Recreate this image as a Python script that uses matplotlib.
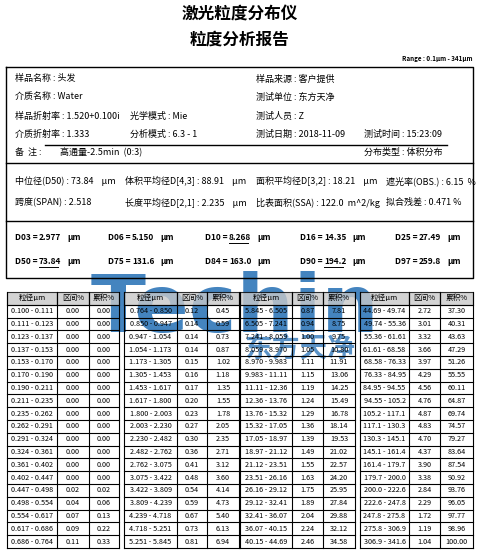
import matplotlib.pyplot as plt

plt.rcParams['font.family'] = ['Noto Sans CJK SC', 'DejaVu Sans']

W, H = 480, 551

# ---- report data ----
info_left = ["样品名称 : 头发", "介质名称 : Water", "样品折射率 : 1.520+0.100i", "介质折射率 : 1.333"]
info_mid = ["", "", "光学模式 : Mie", "分析模式 : 6.3 - 1"]
info_right = ["样品来源 : 客户提供", "测试单位 : 东方天净", "测试人员 : Z", "测试日期 : 2018-11-09"]
test_time = "测试时间 : 15:23:09"
remark = "高通量-2.5min  (0:3)"
dist_type = "分布类型 : 体积分布"

stats_row1 = ["中位径(D50) : 73.84    μm", "体积平均径D[4,3] : 88.91    μm",
              "面积平均径D[3,2] : 18.21    μm", "遮光率(OBS.) : 6.15  %"]
stats_row2 = ["跨度(SPAN) : 2.518", "长度平均径D[2,1] : 2.235    μm",
              "比表面积(SSA) : 122.0  m^2/kg", "拟合残差 : 0.471 %"]

d_names = ["D03", "D06", "D10", "D16", "D25", "D50", "D75", "D84", "D90", "D97"]
d_values = ["2.977", "5.150", "8.268", "14.35", "27.49", "73.84", "131.6", "163.0", "194.2", "259.8"]
d_underlined = ["D10", "D50", "D90"]

size_ranges = [
    "0.100 - 0.111", "0.111 - 0.123", "0.123 - 0.137", "0.137 - 0.153", "0.153 - 0.170",
    "0.170 - 0.190", "0.190 - 0.211", "0.211 - 0.235", "0.235 - 0.262", "0.262 - 0.291",
    "0.291 - 0.324", "0.324 - 0.361", "0.361 - 0.402", "0.402 - 0.447", "0.447 - 0.498",
    "0.498 - 0.554", "0.554 - 0.617", "0.617 - 0.686", "0.686 - 0.764",
    "0.764 - 0.850", "0.850 - 0.947", "0.947 - 1.054", "1.054 - 1.173", "1.173 - 1.305",
    "1.305 - 1.453", "1.453 - 1.617", "1.617 - 1.800", "1.800 - 2.003", "2.003 - 2.230",
    "2.230 - 2.482", "2.482 - 2.762", "2.762 - 3.075", "3.075 - 3.422", "3.422 - 3.809",
    "3.809 - 4.239", "4.239 - 4.718", "4.718 - 5.251", "5.251 - 5.845",
    "5.845 - 6.505", "6.505 - 7.241", "7.241 - 8.059", "8.059 - 8.970", "8.970 - 9.983",
    "9.983 - 11.11", "11.11 - 12.36", "12.36 - 13.76", "13.76 - 15.32", "15.32 - 17.05",
    "17.05 - 18.97", "18.97 - 21.12", "21.12 - 23.51", "23.51 - 26.16", "26.16 - 29.12",
    "29.12 - 32.41", "32.41 - 36.07", "36.07 - 40.15", "40.15 - 44.69",
    "44.69 - 49.74", "49.74 - 55.36", "55.36 - 61.61", "61.61 - 68.58", "68.58 - 76.33",
    "76.33 - 84.95", "84.95 - 94.55", "94.55 - 105.2", "105.2 - 117.1", "117.1 - 130.3",
    "130.3 - 145.1", "145.1 - 161.4", "161.4 - 179.7", "179.7 - 200.0", "200.0 - 222.6",
    "222.6 - 247.8", "247.8 - 275.8", "275.8 - 306.9", "306.9 - 341.6",
]
interval_pct = [
    0.00, 0.00, 0.00, 0.00, 0.00, 0.00, 0.00, 0.00, 0.00, 0.00, 0.00, 0.00, 0.00, 0.00,
    0.02, 0.04, 0.07, 0.09, 0.11,
    0.12, 0.14, 0.14, 0.14, 0.15, 0.16, 0.17, 0.20, 0.23, 0.27, 0.30, 0.36, 0.41, 0.48,
    0.54, 0.59, 0.67, 0.73, 0.81,
    0.87, 0.94, 1.00, 1.05, 1.11, 1.15, 1.19, 1.24, 1.29, 1.36, 1.39, 1.49, 1.55, 1.63,
    1.75, 1.89, 2.04, 2.24, 2.46,
    2.72, 3.01, 3.32, 3.66, 3.97, 4.29, 4.56, 4.76, 4.87, 4.83, 4.70, 4.37, 3.90, 3.38,
    2.84, 2.29, 1.72, 1.19, 1.04,
]
cumulative_pct = [
    0.00, 0.00, 0.00, 0.00, 0.00, 0.00, 0.00, 0.00, 0.00, 0.00, 0.00, 0.00, 0.00, 0.00,
    0.02, 0.06, 0.13, 0.22, 0.33,
    0.45, 0.59, 0.73, 0.87, 1.02, 1.18, 1.35, 1.55, 1.78, 2.05, 2.35, 2.71, 3.12, 3.60,
    4.14, 4.73, 5.40, 6.13, 6.94,
    7.81, 8.75, 9.75, 10.80, 11.91, 13.06, 14.25, 15.49, 16.78, 18.14, 19.53, 21.02, 22.57,
    24.20, 25.95, 27.84, 29.88, 32.12, 34.58,
    37.30, 40.31, 43.63, 47.29, 51.26, 55.55, 60.11, 64.87, 69.74, 74.57, 79.27, 83.64,
    87.54, 90.92, 93.76, 96.05, 97.77, 98.96, 100.00,
]
headers = ["粒径μm", "区间%", "累积%"]

fig = plt.figure(figsize=(W / 100, H / 100), dpi=100)
ax = fig.add_axes([0, 0, 1, 1])
ax.set_xlim(0, W)
ax.set_ylim(H, 0)
ax.axis('off')

def txt(x, y, s, size=7, ha='left', **kw):
    ax.text(x, y, s, fontsize=size, ha=ha, va='center', **kw)

# watermark
ax.text(235, 310, "Techin", fontsize=58, fontweight='bold', color='#1565b0', alpha=0.8,
        ha='center', va='center', family='DejaVu Sans', zorder=0)
ax.text(300, 350, "东方天净", fontsize=20, fontweight='bold', color='#1565b0', alpha=0.7,
        ha='center', va='center', zorder=0)

# title
txt(240, 15, "激光粒度分布仪", 12, 'center', fontweight='bold')
txt(240, 40, "粒度分析报告", 12, 'center', fontweight='bold')
txt(473, 58, "Range : 0.1μm - 341μm", 4.5, 'right', fontweight='bold')

# outer box and separators
ax.plot([6, 473, 473, 6, 6], [67, 67, 278, 278, 67], color='k', lw=1)
ax.plot([6, 473], [163, 163], color='k', lw=1)
ax.plot([6, 473], [221, 221], color='k', lw=1)
ax.plot([45, 447], [145, 145], color='k', lw=1)

rows_y = [79, 97, 116, 134]
for i, y in enumerate(rows_y):
    txt(15, y, info_left[i], 6.5)
    if info_mid[i]:
        txt(130, y, info_mid[i], 6.5)
    txt(256, y, info_right[i], 6.5)
txt(364, 134, test_time, 6.5)
txt(15, 152, "备  注 :", 6.5)
txt(60, 152, remark, 6.5)
txt(364, 152, dist_type, 6.5)

stat_x = [15, 125, 256, 386]
for i, s in enumerate(stats_row1):
    txt(stat_x[i], 181, s, 6.5)
for i, s in enumerate(stats_row2):
    txt(stat_x[i], 203, s, 6.5)

d_x = [15, 108, 205, 300, 395]
for i, (n, v) in enumerate(zip(d_names, d_values)):
    x = d_x[i % 5]
    y = 237 if i < 5 else 261
    txt(x, y, f"{n} =", 6, fontweight='bold')
    txt(x + 24, y, v, 6, fontweight='bold')
    if n in d_underlined:
        ax.plot([x + 24, x + 43], [y + 6, y + 6], color='k', lw=0.7)
    txt(x + 52, y, "μm", 6, fontweight='bold')

# particle table
blocks = [[7, 57, 89, 119], [124, 177, 207, 239], [240, 292, 323, 355], [360, 409, 440, 473]]
top, pitch = 292, 12.8
n_rows = 19
for b, xs in enumerate(blocks):
    yb = top + pitch * (n_rows + 1)
    for c in range(3):
        ax.add_patch(plt.Rectangle((xs[c], top), xs[c + 1] - xs[c], pitch,
                                   facecolor='#c8c8c8', edgecolor='k', lw=0.8, zorder=1, alpha=0.8))
        txt((xs[c] + xs[c + 1]) / 2, top + pitch / 2, headers[c], 5.5, 'center', zorder=3)
    for r in range(1, n_rows + 2):
        ax.plot([xs[0], xs[3]], [top + pitch * r, top + pitch * r], color='k', lw=0.8, zorder=2)
    for x in xs:
        ax.plot([x, x], [top, yb], color='k', lw=0.8, zorder=2)
    for r in range(n_rows):
        k = b * n_rows + r
        y = top + pitch * (r + 1.5)
        txt((xs[0] + xs[1]) / 2, y, size_ranges[k], 5.2, 'center', zorder=3)
        txt((xs[1] + xs[2]) / 2, y, f"{interval_pct[k]:.2f}", 5.2, 'center', zorder=3)
        txt((xs[2] + xs[3]) / 2, y, f"{cumulative_pct[k]:.2f}", 5.2, 'center', zorder=3)

fig.savefig("out.png", dpi=100)
